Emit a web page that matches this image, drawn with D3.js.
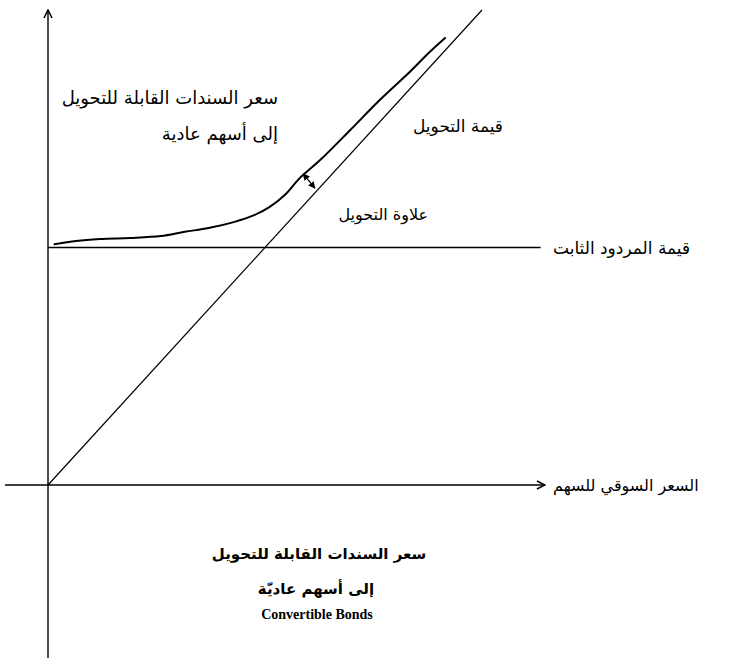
<!DOCTYPE html>
<html><head><meta charset="utf-8">
<script src="https://cdn.jsdelivr.net/npm/d3@7/dist/d3.min.js"></script>
<style>html,body{margin:0;padding:0;background:#fff;} svg{display:block;}</style>
</head><body>
<script>
// ---- data (conceptual units: x = stock market price, y = value) ----
const conversionValue = [[0, 0], [100, 100]];            // straight line through origin
const straightBondValue = 50;                               // fixed-income floor
const straightBondExtent = [0, 113.5];
const bondPrice = [[1.5,50.7],[7,51.4],[12,51.8],[19,52],[26,52.4],[31.5,53.3],[37,54.1],[43,55.4],
  [47.5,56.8],[51,58.5],[54.5,61],[58,64.6],[62.7,68.4],[69.6,74.7],[76.5,81.1],[83.4,87],[88,91.2],[91.5,94.1]];
const premiumArrow = [[58.8, 65.5], [61.5, 62.5]];
const xAxisExtent = [-9.9, 114.5];
const yAxisExtent = [-36.4, 100];
const labels = {
  yTitle1: "سعر السندات القابلة للتحويل",
  yTitle2: "إلى أسهم عادية",
  conv: "قيمة التحويل",
  premium: "علاوة التحويل",
  floor: "قيمة المردود الثابت",
  xTitle: "السعر السوقي للسهم",
  cap1: "سعر السندات القابلة للتحويل",
  cap2: "إلى أسهم عاديّة",
  cap3: "Convertible Bonds"
};

const W = 756, H = 658;
const svg = d3.select("body").append("svg").attr("width", W).attr("height", H);
const x = d3.scaleLinear().domain([0, 100]).range([48, 482]);
const y = d3.scaleLinear().domain([0, 100]).range([485, 10]);

const defs = svg.append("defs");
defs.append("marker").attr("id","chev").attr("viewBox","0 0 10 10").attr("refX",9).attr("refY",5)
  .attr("markerWidth",10).attr("markerHeight",10).attr("markerUnits","userSpaceOnUse").attr("orient","auto-start-reverse")
  .append("path").attr("d","M1,1 L9,5 L1,9").attr("fill","none").attr("stroke","#000").attr("stroke-width",1.5);
defs.append("marker").attr("id","tip").attr("viewBox","0 0 10 10").attr("refX",9).attr("refY",5)
  .attr("markerWidth",7).attr("markerHeight",7).attr("markerUnits","userSpaceOnUse").attr("orient","auto-start-reverse")
  .append("path").attr("d","M0,0 L10,5 L0,10 Z").attr("fill","#000");

const line = d3.line().x(d => x(d[0])).y(d => y(d[1]));

// axes
svg.append("path").attr("d", line([[xAxisExtent[0],0],[xAxisExtent[1],0]]))
  .attr("stroke","#000").attr("stroke-width",1.4).attr("fill","none").attr("marker-end","url(#chev)");
svg.append("path").attr("d", line([[0,yAxisExtent[0]],[0,yAxisExtent[1]]]))
  .attr("stroke","#000").attr("stroke-width",1.4).attr("fill","none").attr("marker-end","url(#chev)");

// straight bond value
svg.append("path").attr("d", line([[straightBondExtent[0],straightBondValue],[straightBondExtent[1],straightBondValue]]))
  .attr("stroke","#000").attr("stroke-width",1.5).attr("fill","none");
// conversion value
svg.append("path").attr("d", line(conversionValue)).attr("stroke","#000").attr("stroke-width",1.2).attr("fill","none");
// bond price curve
svg.append("path").attr("d", d3.line().x(d=>x(d[0])).y(d=>y(d[1])).curve(d3.curveCatmullRom)(bondPrice))
  .attr("stroke","#000").attr("stroke-width",2).attr("fill","none").attr("stroke-linecap","round");
// premium arrow
svg.append("path").attr("d", line(premiumArrow)).attr("stroke","#000").attr("stroke-width",1.3).attr("fill","none")
  .attr("marker-start","url(#tip)").attr("marker-end","url(#tip)");

const ar = "'DejaVu Sans', 'Noto Sans', sans-serif";
function txt(t, px, py, anchor, size, weight, fam) {
  svg.append("text").attr("x", px).attr("y", py).attr("text-anchor", anchor)
    .attr("font-size", size).attr("font-weight", weight || "normal").attr("font-family", fam || ar)
    .attr("fill", "#000").text(t);
}
txt(labels.yTitle1, 278, 104, "end", 18);
txt(labels.yTitle2, 278, 140, "end", 18);
txt(labels.conv, 503, 132, "end", 17);
txt(labels.premium, 428, 220, "end", 16);
txt(labels.floor, 553, 254, "start", 17);
txt(labels.xTitle, 553, 491, "start", 16);
txt(labels.cap1, 319, 559, "middle", 15, "bold");
txt(labels.cap2, 316, 594, "middle", 15, "bold");
txt(labels.cap3, 317, 619, "middle", 14, "bold", "'Liberation Serif', 'Times New Roman', serif");
</script>
</body></html>
